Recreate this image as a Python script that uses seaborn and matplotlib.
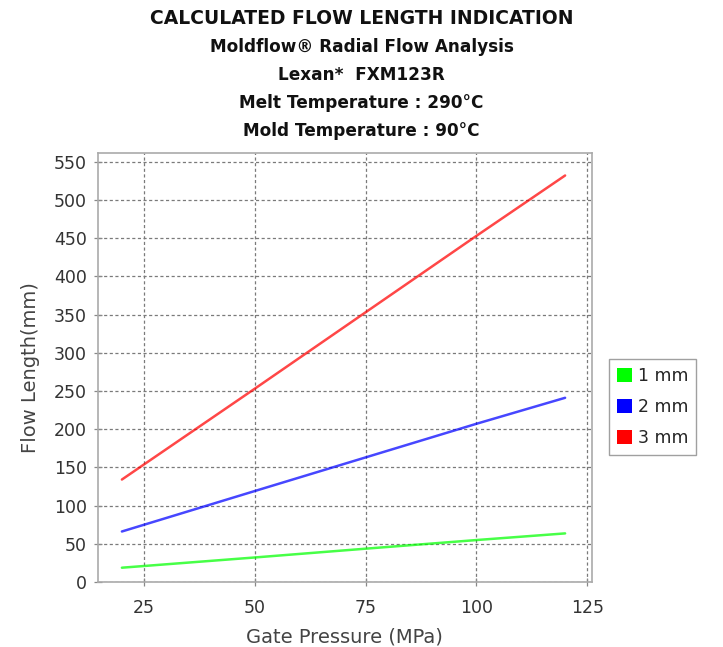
import numpy as np
import pandas as pd
import matplotlib
matplotlib.use("Agg")
import matplotlib.pyplot as plt
from matplotlib.patches import Patch
import seaborn as sns

# Data
pressure = [20, 50, 75, 100, 120]
flow_1mm = [18.6, 32.0, 43.5, 54.8, 63.5]
flow_2mm = [66, 119, 163, 207, 241]
flow_3mm = [134, 253, 353, 453, 532]
series_names = ["1 mm", "2 mm", "3 mm"]
series_colors = ["#00ff00", "#0000ff", "#ff0000"]

title_lines = [
    "CALCULATED FLOW LENGTH INDICATION",
    "Moldflow\u00ae Radial Flow Analysis",
    "Lexan*  FXM123R",
    "Melt Temperature : 290\u00b0C",
    "Mold Temperature : 90\u00b0C",
]

df = pd.DataFrame({
    "Gate Pressure (MPa)": pressure * 3,
    "Flow Length(mm)": flow_1mm + flow_2mm + flow_3mm,
    "Thickness": sum([[n] * len(pressure) for n in series_names], []),
})

sns.set_theme(style="white")
plt.rcParams["font.family"] = ["DejaVu Sans"]

fig = plt.figure(figsize=(7.23, 6.47), dpi=100)
ax = fig.add_axes([0.1355, 0.1006, 0.8184 - 0.1355, 0.763 - 0.1006])

sns.lineplot(data=df, x="Gate Pressure (MPa)", y="Flow Length(mm)", hue="Thickness",
             palette=dict(zip(series_names, series_colors)), linewidth=1.8,
             alpha=0.72, legend=False, ax=ax)

ax.set_xlim(14.6, 126)
ax.set_ylim(0, 561)
ax.set_xticks([25, 50, 75, 100, 125])
ax.set_yticks(np.arange(0, 551, 50))
ax.grid(True, color="#7a7a7a", linestyle=(0, (2.5, 2)), linewidth=0.9)
ax.set_axisbelow(True)
for s in ax.spines.values():
    s.set_color("#aaaaaa")
    s.set_linewidth(1.2)
ax.tick_params(axis="both", direction="inout", length=6, width=0.9, color="#888888",
               labelsize=12.5, labelcolor="#333333", pad=5, left=True, bottom=True)
ax.tick_params(axis="x", pad=9)
ax.set_xlabel("Gate Pressure (MPa)", fontsize=14, color="#444444", labelpad=8)
ax.set_ylabel("Flow Length(mm)", fontsize=14, color="#444444", labelpad=10)

ys = [0.972, 0.927, 0.884, 0.841, 0.797]
sizes = [13.5, 12.2, 12.2, 12.2, 12.2]
for t, y, s in zip(title_lines, ys, sizes):
    fig.text(0.5, y, t, ha="center", va="center", fontsize=s, fontweight="bold", color="#111111")

handles = [Patch(facecolor=c, edgecolor="none", label=n) for n, c in zip(series_names, series_colors)]
leg = fig.legend(handles=handles, loc="upper left", bbox_to_anchor=(0.843, 0.445),
                 fontsize=12.5, frameon=True, fancybox=False, handlelength=0.85,
                 handleheight=0.85, handletextpad=0.35, borderpad=0.45, labelspacing=0.75,
                 borderaxespad=0)
leg.get_frame().set_edgecolor("#888888")
leg.get_frame().set_linewidth(1.0)

fig.savefig("out.png", dpi=100)
